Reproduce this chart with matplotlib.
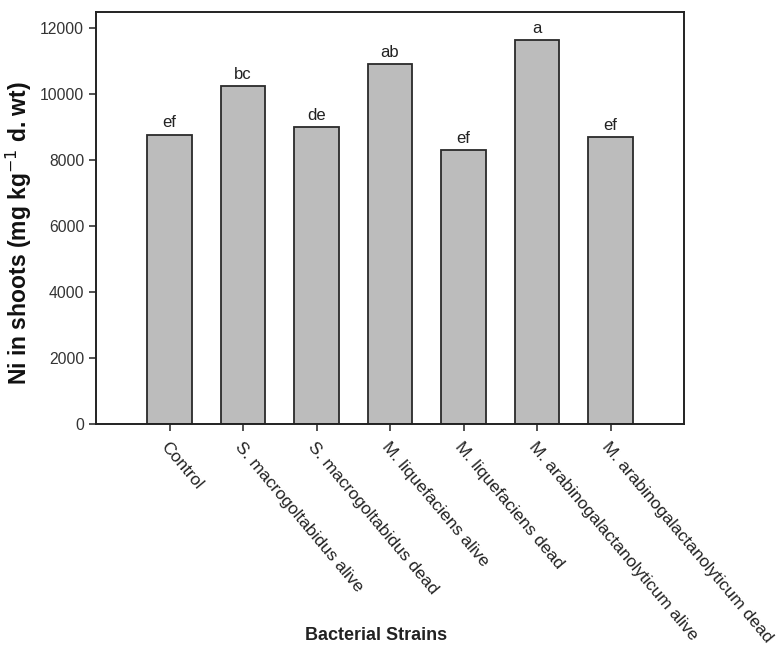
import matplotlib
matplotlib.use("Agg")
import matplotlib.pyplot as plt
import numpy as np

plt.rcParams['font.family'] = ['Liberation Sans', 'DejaVu Sans']

strains = [
    "Control",
    "S. macrogoltabidus alive",
    "S. macrogoltabidus dead",
    "M. liquefaciens alive",
    "M. liquefaciens dead",
    "M. arabinogalactanolyticum alive",
    "M. arabinogalactanolyticum dead",
]
ni_shoots = [8780, 10250, 9000, 10920, 8300, 11640, 8710]
letters = ["ef", "bc", "de", "ab", "ef", "a", "ef"]
yticks = [0, 2000, 4000, 6000, 8000, 10000, 12000]

fig = plt.figure(figsize=(7.81, 6.51), dpi=100)
ax = fig.add_axes([96 / 781, 1 - 423.7 / 651, (684 - 96) / 781, (423.7 - 12) / 651])

x = np.arange(len(strains))
bars = ax.bar(x, ni_shoots, width=0.6, color="#bcbcbc", edgecolor="#2a2a2a", linewidth=1.3)

for xi, v, lab in zip(x, ni_shoots, letters):
    ax.annotate(lab, (xi, v), xytext=(0, 3), textcoords="offset points",
                ha="center", va="bottom", fontsize=12, color="#222222")

ax.set_xlim(-1, len(strains))
ax.set_ylim(0, 12500)
ax.set_yticks(yticks)
ax.set_yticklabels([str(t) for t in yticks], fontsize=11.3, color="#333333")
ax.set_xticks(x)
ax.set_xticklabels(strains, rotation=-50, ha="left", va="top",
                   rotation_mode="anchor", fontsize=12.6, color="#222222")
ax.tick_params(axis="both", direction="out", length=5, width=1.2, color="#333333")
ax.tick_params(axis="x", pad=6)

for s in ax.spines.values():
    s.set_linewidth(1.4)
    s.set_color("#222222")

ax.set_ylabel("Ni in shoots (mg kg$^{-1}$ d. wt)", fontsize=16.5, fontweight="bold",
              color="#111111")
ax.yaxis.set_label_coords(-0.106, 0.463)
fig.text(376 / 781, 1 - 636 / 651, "Bacterial Strains", ha="center", va="center",
         fontsize=13, fontweight="bold", color="#222222")

fig.savefig("out.png", dpi=100)
